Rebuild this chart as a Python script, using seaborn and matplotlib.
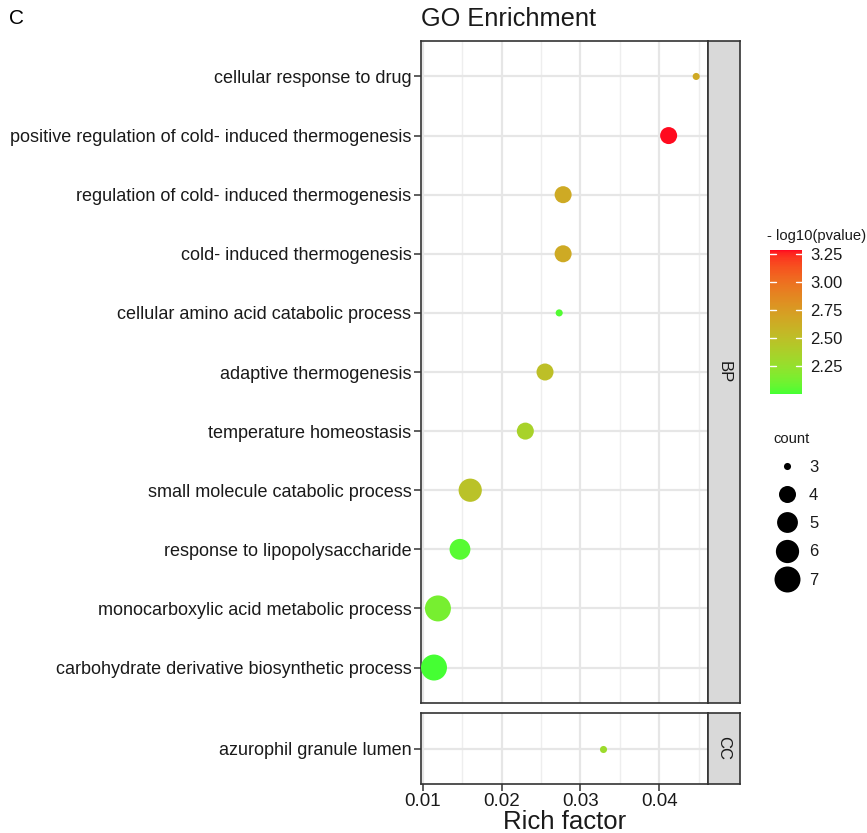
import numpy as np
import pandas as pd
import matplotlib
matplotlib.use("Agg")
import matplotlib.pyplot as plt
from matplotlib.colors import ListedColormap, Normalize
from matplotlib.lines import Line2D
import seaborn as sns

# GO terms, top to bottom within each ontology
bp_terms = [
    "cellular response to drug",
    "positive regulation of cold- induced thermogenesis",
    "regulation of cold- induced thermogenesis",
    "cold- induced thermogenesis",
    "cellular amino acid catabolic process",
    "adaptive thermogenesis",
    "temperature homeostasis",
    "small molecule catabolic process",
    "response to lipopolysaccharide",
    "monocarboxylic acid metabolic process",
    "carbohydrate derivative biosynthetic process",
]
bp_rich = [0.0447, 0.0412, 0.0278, 0.0278, 0.0273, 0.0255, 0.0230, 0.0160, 0.0147, 0.0119, 0.0114]
bp_count = [3, 4, 4, 4, 3, 4, 4, 6, 5, 7, 7]
bp_logp = [2.66, 3.29, 2.65, 2.65, 2.03, 2.50, 2.36, 2.48, 2.04, 2.13, 2.00]

cc_terms = ["azurophil granule lumen"]
cc_rich = [0.0329]
cc_count = [3]
cc_logp = [2.29]

x_ticks = [0.01, 0.02, 0.03, 0.04]
x_tick_labels = ["0.01", "0.02", "0.03", "0.04"]
cbar_ticks = [2.25, 2.50, 2.75, 3.00, 3.25]
count_levels = [3, 4, 5, 6, 7]

df = pd.DataFrame({
    "term": bp_terms + cc_terms,
    "rich": bp_rich + cc_rich,
    "count": bp_count + cc_count,
    "logp": bp_logp + cc_logp,
    "ont": ["BP"] * len(bp_terms) + ["CC"] * len(cc_terms),
})


# green -> red gradient interpolated in CIELAB space
def _srgb_to_lab(rgb):
    rgb = np.asarray(rgb, float)
    lin = np.where(rgb <= 0.04045, rgb / 12.92, ((rgb + 0.055) / 1.055) ** 2.4)
    m = np.array([[0.4124, 0.3576, 0.1805],
                  [0.2126, 0.7152, 0.0722],
                  [0.0193, 0.1192, 0.9505]])
    xyz = m @ lin / np.array([0.95047, 1.0, 1.08883])
    f = np.where(xyz > 0.008856, np.cbrt(xyz), 7.787 * xyz + 16 / 116)
    return np.array([116 * f[1] - 16, 500 * (f[0] - f[1]), 200 * (f[1] - f[2])])


def _lab_to_srgb(lab):
    L, a, b = lab
    fy = (L + 16) / 116
    fx = fy + a / 500
    fz = fy - b / 200
    f = np.array([fx, fy, fz])
    xyz = np.where(f ** 3 > 0.008856, f ** 3, (f - 16 / 116) / 7.787)
    xyz = xyz * np.array([0.95047, 1.0, 1.08883])
    minv = np.array([[3.2406, -1.5372, -0.4986],
                     [-0.9689, 1.8758, 0.0415],
                     [0.0557, -0.2040, 1.0570]])
    lin = np.clip(minv @ xyz, 0, 1)
    rgb = np.where(lin <= 0.0031308, 12.92 * lin, 1.055 * lin ** (1 / 2.4) - 0.055)
    return np.clip(rgb, 0, 1)


lab_lo = _srgb_to_lab([0.27, 1.0, 0.2])
lab_hi = _srgb_to_lab([1.0, 0.04, 0.12])
cmap = ListedColormap([_lab_to_srgb(lab_lo + t * (lab_hi - lab_lo)) for t in np.linspace(0, 1, 256)])
norm = Normalize(vmin=df["logp"].min(), vmax=df["logp"].max())

# point areas (pt^2) per gene count
size_map = {3: 26, 4: 150, 5: 225, 6: 280, 7: 350}

sns.set_theme(style="white")
plt.rcParams["font.family"] = ["Liberation Sans", "DejaVu Sans"]

W, H = 867, 833
fig = plt.figure(figsize=(W / 100, H / 100), dpi=100)


def fbox(x0, y0, x1, y1):
    return [x0 / W, 1 - y1 / H, (x1 - x0) / W, (y1 - y0) / H]


ax_bp = fig.add_axes(fbox(421, 41, 708, 703))
ax_cc = fig.add_axes(fbox(421, 713, 708, 784))
st_bp = fig.add_axes(fbox(708, 41, 740, 703))
st_cc = fig.add_axes(fbox(708, 713, 740, 784))

xlim = (0.00975, 0.0462)
border = "#333333"
txt = "#1a1a1a"
for ax, ont, terms in [(ax_bp, "BP", bp_terms), (ax_cc, "CC", cc_terms)]:
    sub = df[df["ont"] == ont].copy()
    sub["term"] = pd.Categorical(sub["term"], categories=terms, ordered=True)
    sns.scatterplot(data=sub, x="rich", y="term", hue="logp", hue_norm=norm,
                    palette=cmap, size="count", sizes=size_map, linewidth=0,
                    alpha=1, legend=False, ax=ax, zorder=3)
    ax.set_xlim(*xlim)
    ax.set_ylim(len(terms) - 0.4, -0.6)
    ax.set_xticks(x_ticks)
    ax.set_xticks([0.015, 0.025, 0.035, 0.045], minor=True)
    ax.grid(True, which="major", color="#E6E6E6", lw=1.6, zorder=0)
    ax.grid(True, which="minor", axis="x", color="#EEEEEE", lw=1.0, zorder=0)
    ax.set_axisbelow(True)
    ax.set_xlabel("")
    ax.set_ylabel("")
    ax.tick_params(axis="both", which="major", length=5, width=1.1, color=border,
                   labelsize=13, labelcolor=txt, pad=2, left=True, bottom=True)
    ax.tick_params(axis="both", which="minor", length=0)
    for s in ax.spines.values():
        s.set_color(border)
        s.set_linewidth(1.2)

ax_bp.tick_params(axis="x", labelbottom=False, length=0)
ax_cc.set_xticklabels(x_tick_labels)
ax_cc.tick_params(axis="x", labelsize=13.5, pad=1.5)
ax_cc.set_xlabel("Rich factor", fontsize=18.5, color=txt, labelpad=0)

# facet strips
for st, lab in [(st_bp, "BP"), (st_cc, "CC")]:
    st.set_facecolor("#D9D9D9")
    st.set_xticks([])
    st.set_yticks([])
    for s in st.spines.values():
        s.set_color(border)
        s.set_linewidth(1.2)
    st.text(0.5, 0.5, lab, rotation=-90, ha="center", va="center",
            fontsize=12, color=txt, transform=st.transAxes)

fig.text(421 / W, 1 - 19 / H, "GO Enrichment", fontsize=18.3, ha="left", va="center", color=txt)
fig.text(9 / W, 1 - 19 / H, "C", fontsize=15, ha="left", va="center", color="black")

# colour bar legend
cax = fig.add_axes(fbox(770, 250, 802, 394))
sm = plt.cm.ScalarMappable(norm=norm, cmap=cmap)
cb = fig.colorbar(sm, cax=cax, ticks=cbar_ticks)
cb.outline.set_visible(False)
cb.ax.set_yticklabels([f"{t:.2f}" for t in cbar_ticks])
cb.ax.tick_params(length=0, labelsize=12, pad=6, labelcolor=txt)
for t in cbar_ticks:
    cax.plot([0, 0.2], [t, t], color="white", lw=1, transform=cax.get_yaxis_transform())
    cax.plot([0.8, 1], [t, t], color="white", lw=1, transform=cax.get_yaxis_transform())
fig.text(767 / W, 1 - 236 / H, "- log10(pvalue)", fontsize=10.6, ha="left", va="center", color=txt)

# size legend
handles = [Line2D([], [], ls="", marker="o", color="black", markeredgewidth=0,
                  markersize=np.sqrt(size_map[c])) for c in count_levels]
leg = fig.legend(handles, [str(c) for c in count_levels], title="count",
                 loc="upper left", bbox_to_anchor=(761.5 / W, 1 - 420.5 / H),
                 frameon=False, fontsize=12, title_fontsize=10.6,
                 handletextpad=0.55, labelspacing=0.8, borderpad=0.2,
                 handlelength=1.6, alignment="left")
for t in leg.get_texts():
    t.set_color(txt)
leg.get_title().set_color(txt)

fig.savefig("out.png", dpi=100)
